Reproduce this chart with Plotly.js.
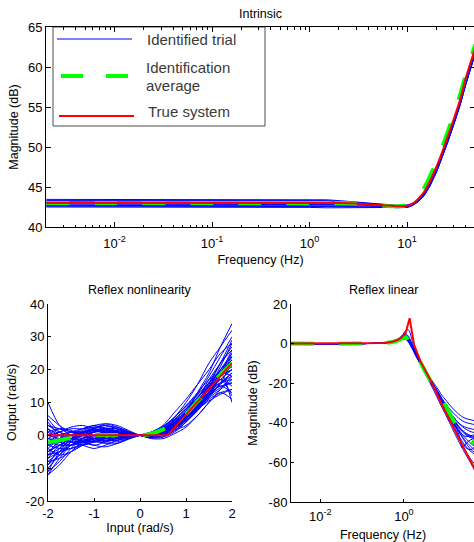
<!DOCTYPE html>
<html>
<head>
<meta charset="utf-8">
<script src="https://cdn.plot.ly/plotly-3.0.1.min.js"></script>
<style>
html,body{margin:0;padding:0;overflow:hidden;background:#fff;}
#chart{width:476px;height:542px;}
</style>
</head>
<body>
<div id="chart"></div>
<script>
// ---------------- DATA ----------------
// Intrinsic (top): frequency (Hz) and magnitude (dB)
const intrFreq = [0.002, 0.01, 0.1, 1, 1.5, 2, 3, 4, 5, 6, 7, 8, 9, 10, 11, 12, 13, 15, 17, 20, 23, 26, 30, 35, 40, 45, 50];
const intrTrue = [43, 43, 43, 43, 43, 43, 42.95, 42.8, 42.75, 42.7, 42.65, 42.6, 42.6, 42.65, 42.8, 43.1, 43.5, 44.4, 45.6, 47.5, 49.4, 51.2, 53.4, 55.9, 58.6, 60.6, 62.4];
const intrAvg  = [43, 43, 43, 43, 43, 43, 42.95, 42.85, 42.7, 42.65, 42.6, 42.6, 42.65, 42.75, 43.0, 43.4, 43.9, 44.9, 46.2, 48.1, 50.0, 51.8, 54.0, 56.5, 59.0, 61.0, 62.8];
const intrTrial1 = [43.45, 43.45, 43.45, 43.45, 43.4, 43.3, 43.1, 42.95, 42.85, 42.8, 42.75, 42.7, 42.7, 42.75, 42.9, 43.15, 43.5, 44.3, 45.4, 47.2, 49.1, 50.9, 53.1, 55.6, 58.2, 60.2, 62.0];
const intrTrial2 = [43.3, 43.3, 43.3, 43.3, 43.3, 43.2, 43.05, 42.9, 42.8, 42.75, 42.7, 42.65, 42.65, 42.7, 42.85, 43.1, 43.4, 44.2, 45.3, 47.1, 49.0, 50.8, 53.0, 55.5, 58.1, 60.1, 61.9];
const intrTrial3 = [43.15, 43.15, 43.15, 43.15, 43.15, 43.1, 43.0, 42.85, 42.75, 42.7, 42.65, 42.6, 42.6, 42.65, 42.8, 43.05, 43.35, 44.1, 45.2, 47.0, 48.9, 50.7, 52.9, 55.4, 58.0, 60.0, 61.8];
const intrTrial4 = [43.0, 43.0, 43.0, 43.0, 43.0, 43.0, 42.9, 42.8, 42.7, 42.65, 42.6, 42.55, 42.55, 42.6, 42.75, 43.0, 43.3, 44.1, 45.2, 47.0, 48.9, 50.7, 52.9, 55.4, 58.0, 60.0, 61.8];
const intrTrial5 = [42.85, 42.85, 42.85, 42.85, 42.85, 42.85, 42.8, 42.7, 42.65, 42.6, 42.55, 42.5, 42.5, 42.55, 42.7, 42.95, 43.25, 44.0, 45.1, 46.9, 48.8, 50.6, 52.8, 55.3, 57.9, 59.9, 61.7];
const intrTrial6 = [42.7, 42.7, 42.7, 42.7, 42.7, 42.7, 42.65, 42.6, 42.55, 42.5, 42.5, 42.45, 42.45, 42.5, 42.65, 42.9, 43.2, 43.95, 45.0, 46.8, 48.7, 50.5, 52.7, 55.2, 57.8, 59.8, 61.6];
const intrTrial7 = [42.6, 42.6, 42.6, 42.6, 42.55, 42.55, 42.55, 42.5, 42.5, 42.45, 42.45, 42.4, 42.4, 42.45, 42.6, 42.85, 43.15, 43.9, 45.0, 46.8, 48.7, 50.5, 52.7, 55.2, 57.8, 59.8, 61.6];
const intrTrial8 = [42.5, 42.5, 42.5, 42.45, 42.4, 42.4, 42.4, 42.4, 42.4, 42.4, 42.4, 42.4, 42.4, 42.45, 42.6, 42.85, 43.2, 44.0, 45.1, 46.9, 48.8, 50.6, 52.8, 55.3, 57.9, 59.9, 61.7];
const intrTrials = [intrTrial1, intrTrial2, intrTrial3, intrTrial4, intrTrial5, intrTrial6, intrTrial7, intrTrial8];

// Reflex nonlinearity (bottom left): input (rad/s) and output (rad/s)
const nlInput = [-2, -1.75, -1.5, -1.25, -1, -0.75, -0.5, -0.25, 0, 0.25, 0.5, 0.75, 1, 1.25, 1.5, 1.75, 2];
const nlTrueInput = [-2, 0.6, 2];
const nlTrue = [0, 0, 22];
const nlAvg = [-2.2, -1.5, -0.7, -0.2, 0, 0.1, 0.1, 0, 0, 0.5, 1.8, 3.8, 6.5, 10.3, 14.6, 18.5, 22];
const nlTrial01 = [-3, -2, -1, 0, 1, 1.5, 1, 0.5, 0, 0.5, 1.5, 3.5, 6, 9, 13, 17, 20];
const nlTrial02 = [-8, -5, -2, 0, 1, 2, 1, 0.3, 0, 0.3, 1, 3, 5.5, 8.5, 12, 15.5, 19];
const nlTrial03 = [2, 0, -1, -1, 0, 1, 0.8, 0.3, 0, -0.3, 0, 2, 5, 10, 16, 22, 26];
const nlTrial04 = [-12, -7, -3, -1, 0, 0, -0.5, -0.2, 0, 0.5, 2, 4.5, 7, 10, 13, 15, 16];
const nlTrial05 = [10, 3, 0, 1, 2, 3, 2, 1, 0, -0.5, 0, 1.5, 4, 8, 12, 18, 24];
const nlTrial06 = [-5, -3, -2, -2, -3, -3.5, -2.5, -1, 0, 1, 2.5, 5, 8, 11.5, 15, 18, 21];
const nlTrial07 = [0, 1, 2, 2, 2.5, 3, 2, 0.7, 0, -1, -1, 0.5, 2.5, 6, 10, 14, 18];
const nlTrial08 = [-10, -6, -2, 1, 2, 1, 0, -0.5, 0, 1, 3, 7, 11, 15.5, 20, 25, 28];
const nlTrial09 = [-2, -3, -3, -2, -1, 0, 0.5, 0.3, 0, -0.5, -0.5, 1, 4, 7.5, 11, 13, 14];
const nlTrial10 = [3, 2, 1, 0, -1, -2, -2, -1, 0, 0.8, 2, 4, 6.5, 10, 14.5, 20, 25];
const nlTrial11 = [-6, -4, -1.5, 0.5, 1.5, 2.5, 2.5, 1.2, 0, -0.5, 0.5, 2.5, 6, 11, 17, 22, 27];
const nlTrial12 = [-1, -1.5, -2, -3, -4, -3, -1.5, -0.5, 0, 0.5, 1.5, 3.5, 6, 9, 12, 14.5, 16];
const nlTrial13 = [-11, -8, -4, -1, 1, 2, 2, 1, 0, 0, 1, 3, 6, 10, 15, 20, 24];
const nlTrial14 = [5, 1, -1, -2, -1, 0, 0.5, 0.3, 0, 0.3, 1.2, 3, 5.5, 8, 10.5, 12.5, 14];
const nlTrial15 = [-4, -1, 1, 2, 3, 3.5, 2.5, 1, 0, -0.8, -0.5, 1.5, 4.5, 8.5, 13.5, 19, 22];
const nlTrial16 = [-7, -5, -3, -2, -2, -1.5, -1, -0.5, 0, 0.6, 1.8, 4.5, 8, 12.5, 18, 24, 30];
const nlTrial17 = [1, -1, -1, 0, 1, 1, 0.5, 0, 0, 0, 1, 2.5, 4.5, 7.5, 12, 18, 20];
const nlTrial18 = [-9, -4, 0, 2, 3, 2, 1, 0.5, 0, -0.3, 0.5, 3, 7, 13, 19, 27, 34];
const nlTrial19 = [-3, -4, -4, -3, -2, -1, -1, -0.5, 0, 0.8, 2.5, 5.5, 9, 13, 17, 19, 18];
const nlTrial20 = [0, 2, 1.5, 0, -1, -1, -0.3, 0, 0, 0.2, 0.8, 2.5, 5, 8.5, 12.5, 17, 12];
const nlTrial21 = [-6, -2, 0, -1, -2, -2, -1, -0.4, 0, 0.4, 1.4, 3.5, 6.5, 10, 14, 19, 23];
const nlTrial22 = [-12, -9, -5, -2, 0, 1, 1, 0.5, 0, -0.2, 0.3, 2, 4.5, 8, 13, 19, 26];
const nlTrial23 = [6, 3, 1, 1, 1, 1.5, 1.5, 0.8, 0, -0.2, 0.8, 3, 6, 9, 12, 16, 19];
const nlTrial24 = [-2, 0, 1, 1, 0, -1, -1.5, -0.8, 0, 0.5, 1.5, 4, 7.5, 11.5, 16, 19, 10];
const nlTrial25 = [-5, -3, -1, 1, 2, 1, 0, 0, 0, 1, 2.5, 5.5, 10, 15.5, 22, 27, 32];
const nlTrial26 = [-1, -2, -3, -2, -0.5, 1, 1, 0.5, 0, -0.5, 0, 1.5, 3, 6, 10, 13, 11];
const nlTrial27 = [-4, -6, -5, -3, -1, 0.5, 1, 0.6, 0, 0.2, 1, 3, 6, 9.5, 14, 18, 21];
const nlTrial28 = [1, 2, 0, -2, -3, -2, -0.5, 0, 0, 0.7, 2.2, 4.8, 8.5, 12, 15, 17, 15];
const nlTrial29 = [-7, -3, -1, 0.5, 2, 3.5, 3, 1.5, 0, -0.6, 0, 2, 5, 9, 14.5, 21, 28];
const nlTrial30 = [4, 0, -2, -3, -2, -0.5, 0.5, 0.4, 0, 0.2, 1, 2.8, 5.2, 8, 11.5, 16, 22];
const nlTrial31 = [-9, -6, -3, -1.5, -1, -1.5, -1.5, -0.6, 0, 0.7, 2, 4.2, 7, 10.5, 15, 20, 24];
const nlTrial32 = [-1, 1, 2.5, 3, 2, 0.5, -0.5, -0.3, 0, 0.3, 1.3, 3.2, 6, 9.5, 13, 16, 17];
const nlTrial33 = [-6, -5, -4, -2.5, -1, 0, 0.3, 0.2, 0, 0, 0.8, 2.8, 5.5, 9, 13, 18.5, 25];
const nlTrial34 = [2, -2, -3, -1, 1, 2, 1.5, 0.6, 0, -0.4, 0.2, 2.2, 5.2, 8.8, 12.5, 15, 13];
const nlTrial35 = [-11, -5, -1, 1, 1.5, 0.5, -0.5, -0.4, 0, 0.5, 1.7, 3.8, 6.8, 10.5, 14.5, 18, 20];
const nlTrial36 = [0, -1, 0, 1.5, 2.5, 2, 0.8, 0.2, 0, 0.1, 0.9, 2.7, 5.8, 10, 15.5, 22, 29];
const nlTrial37 = [-3, -1, 0, -0.5, -1.5, -2.5, -2.5, -1.2, 0, 1, 2.8, 5.5, 9, 12.5, 16, 19.5, 23];
const nlTrial38 = [-8, -7, -5, -3, -1.5, -0.5, 0, 0, 0, 0.4, 1.2, 3, 5.5, 8.5, 11.5, 14, 17];
const nlTrial39 = [3, 1, 0, 0.5, 1.5, 2, 1.2, 0.4, 0, -0.2, 0.6, 2.5, 5.5, 9.5, 14, 19, 21];
const nlTrial40 = [-5, -2, -1, -1.5, -2, -1, 0, 0.2, 0, 0.3, 1.5, 4, 7.5, 11, 14, 16, 18];
const nlTrials = [nlTrial01, nlTrial02, nlTrial03, nlTrial04, nlTrial05, nlTrial06, nlTrial07, nlTrial08, nlTrial09, nlTrial10,
  nlTrial11, nlTrial12, nlTrial13, nlTrial14, nlTrial15, nlTrial16, nlTrial17, nlTrial18, nlTrial19, nlTrial20,
  nlTrial21, nlTrial22, nlTrial23, nlTrial24, nlTrial25, nlTrial26, nlTrial27, nlTrial28, nlTrial29, nlTrial30,
  nlTrial31, nlTrial32, nlTrial33, nlTrial34, nlTrial35, nlTrial36, nlTrial37, nlTrial38, nlTrial39, nlTrial40];

// Reflex linear (bottom right): frequency (Hz) and magnitude (dB)
const linFreq = [0.002, 0.1, 0.3, 0.5, 0.7, 0.9, 1.1, 1.3, 1.6, 2, 2.5, 3.2, 4, 5, 6.5, 8, 10, 13, 16, 20, 25, 32, 40, 50];
const linTrueFreq = [0.002, 0.1, 0.3, 0.5, 0.7, 0.85, 1.0, 1.1, 1.37, 1.75, 2.5, 3.2, 4.3, 5, 7.5, 10, 15, 20, 30, 40, 50];
const linTrue = [0, 0, 0.3, 0.8, 1.8, 2.9, 4.2, 5.4, 12.8, -0.6, -9, -13.5, -18.7, -21, -29.5, -34.5, -42, -47.5, -54.5, -59.5, -63.5];
const linAvg = [0, 0, 0.2, 0.7, 1.5, 2.6, 3.2, 1.5, -2, -6, -9.7, -13.8, -17.5, -21, -25, -28.5, -31.5, -36, -39.5, -43, -45.5, -47.5, -49, -50.5];
const linTrialA = [0, 0, 0.3, 1, 2.2, 4, 6.5, 6.8, 1, -5, -9, -13.5, -17.5, -21, -25.5, -29, -32.5, -37, -40.5, -44, -47, -50, -52, -54];
const linTrialB = [0, 0, 0.3, 0.9, 1.8, 3, 3.5, 2, -1.5, -5.5, -9, -13, -16.5, -19.5, -23, -26, -28.5, -31.5, -33.5, -35.5, -37, -38, -38.5, -39];
const linTrialC = [0, 0, 0.3, 0.9, 1.9, 3.3, 4.2, 2.5, -2, -6.5, -10.5, -15, -19, -23, -28, -32, -36, -41, -45, -49, -53, -57, -60.5, -64.5];
const linTrialD = [0, 0, 0.3, 0.8, 1.6, 2.6, 2.8, 1, -2.5, -6.5, -10, -14, -17.5, -21, -25, -28.5, -32, -36.5, -40.5, -45, -52.5, -50, -48.5, -48];
const linTrialE = [0, 0, 0.2, 0.7, 1.5, 2.3, 2.2, 0.5, -2.5, -6, -9.5, -13.5, -17, -20.5, -24.5, -28, -31, -35, -37.5, -40, -42, -43.5, -44.5, -45];
const linTrialF = [0, 0, 0.3, 1, 2, 3.4, 4, 2.2, -1.5, -5.8, -9.5, -13.8, -17.5, -21, -25.5, -29.5, -33, -38, -42, -46, -49.5, -52.5, -54.5, -56];
const linTrialG = [0, 0, 0.3, 0.9, 1.7, 2.8, 3, 1.2, -2.5, -6.8, -10.5, -14.5, -18, -21.5, -25.5, -29, -32, -36, -39, -42, -44.5, -46.5, -47.5, -48];
const linTrialH = [0, 0, 0.3, 1, 2.1, 3.6, 4.6, 3, -1, -5.2, -9, -13.2, -17, -20.5, -24.5, -28, -31.5, -35, -37.5, -40, -41.5, -42.5, -43, -43.5];
const linTrialI = [0, 0, 0.2, 0.8, 1.6, 2.5, 2.4, 0.8, -2.7, -6.8, -10.5, -14.8, -18.5, -22, -26.5, -30.5, -34, -39, -43, -47, -50.5, -53, -53.5, -52];
const linTrialJ = [0, 0, 0.3, 0.9, 1.8, 3.1, 3.6, 1.8, -2, -6.2, -10, -14, -17.5, -21, -25, -28.5, -31.5, -35.5, -38.5, -41.5, -44, -46, -47, -47.5];
const linTrialK = [0, 0, 0.3, 1, 2, 3.2, 3.8, 2.2, -1.7, -5.9, -9.6, -13.6, -17.2, -20.6, -24.8, -28.5, -32, -36.5, -40, -44, -47.5, -51, -53.5, -55];
const linTrialL = [0, 0, 0.3, 0.9, 1.8, 3, 3.2, 1.5, -2.2, -6.4, -10.2, -14.3, -18, -21.5, -26, -29.5, -33, -37.5, -41, -44, -46, -47, -46.5, -46];
const linTrialM = [0, 0, 0.2, 0.8, 1.6, 2.7, 2.6, 0.9, -2.6, -6.6, -10.3, -14.3, -17.8, -21.2, -25.2, -28.8, -32, -36, -39.5, -43, -46, -48.5, -50.5, -52];
const linTrialN = [0, 0, 0.3, 1, 2.1, 3.7, 5, 3.5, -0.5, -4.8, -8.7, -13, -16.8, -20.3, -24.2, -27.5, -30.5, -33.5, -35.5, -37.5, -39, -40, -40.5, -41];
const linTrialO = [0, 0, 0.3, 0.9, 1.9, 3.2, 3.4, 1.6, -2.2, -6.3, -10.1, -14.2, -17.8, -21.3, -25.5, -29.2, -32.8, -37.8, -42.3, -47, -51.5, -55.5, -58.5, -61];
const linTrialP = [0, 0, 0.3, 0.9, 1.8, 2.9, 3.1, 1.4, -2.3, -6.4, -10.1, -14.1, -17.7, -21.1, -25.1, -28.6, -31.8, -35.8, -38.8, -41.6, -43.8, -45.5, -46.5, -47];
const linTrials = [linTrialA, linTrialB, linTrialC, linTrialD, linTrialE, linTrialF, linTrialG, linTrialH, linTrialI, linTrialJ, linTrialK, linTrialL, linTrialM, linTrialN, linTrialO, linTrialP];

// Tick values / labels
const freqTickVals = [0.01, 0.1, 1, 10];
const freqTickText = ['10<sup>-2</sup>', '10<sup>-1</sup>', '10<sup>0</sup>', '10<sup>1</sup>'];
const linFreqTickVals = [0.01, 1];
const linFreqTickText = ['10<sup>-2</sup>', '10<sup>0</sup>'];
const intrYTicks = [40, 45, 50, 55, 60, 65];
const intrYText = ['40', '45', '50', '55', '60', '65'];
const nlXTicks = [-2, -1, 0, 1, 2];
const nlXText = ['-2', '-1', '0', '1', '2'];
const nlYTicks = [-20, -10, 0, 10, 20, 30, 40];
const nlYText = ['-20', '-10', '0', '10', '20', '30', '40'];
const linYTicks = [-80, -60, -40, -20, 0, 20];
const linYText = ['-80', '-60', '-40', '-20', '0', '20'];
const legendLabels = ['Identified trial', 'Identification', 'average', 'True system'];
const panelTitles = ['Intrinsic', 'Reflex nonlinearity', 'Reflex linear'];

// ---------------- STYLE / LAYOUT ----------------
const FONT = '"Liberation Sans", Arial, Helvetica, sans-serif';
const W = 476, H = 542;
const BLUE = '#0000ff', GREEN = '#00ff00', RED = '#ff0000';
const DASH = '23px,25px';

const traces = [];
function addTrace(x, y, xa, ya, color, width, dash, shape) {
  traces.push({
    type: 'scatter', mode: 'lines', x: x, y: y, xaxis: xa, yaxis: ya,
    line: {color: color, width: width, dash: dash || 'solid', shape: shape || 'linear', smoothing: 0.8},
    showlegend: false, hoverinfo: 'skip'
  });
}
// top
intrTrials.forEach(t => addTrace(intrFreq, t, 'x', 'y', BLUE, 1, 'solid', 'linear'));
addTrace(intrFreq, intrAvg, 'x', 'y', GREEN, 4, DASH, 'spline');
addTrace(intrFreq, intrTrue, 'x', 'y', RED, 2, 'solid', 'spline');
// bottom-left
nlTrials.forEach(t => addTrace(nlInput, t, 'x2', 'y2', BLUE, 1, 'solid', 'spline'));
addTrace(nlInput, nlAvg, 'x2', 'y2', GREEN, 4, DASH, 'spline');
addTrace(nlTrueInput, nlTrue, 'x2', 'y2', RED, 2, 'solid', 'linear');
// bottom-right
linTrials.forEach(t => addTrace(linFreq, t, 'x3', 'y3', BLUE, 1, 'solid', 'spline'));
addTrace(linFreq, linAvg, 'x3', 'y3', GREEN, 4, DASH, 'spline');
addTrace(linTrueFreq, linTrue, 'x3', 'y3', RED, 2, 'solid', 'linear');

// minor tick positions on log axes (2..9 per decade)
const minorVals = [];
for (let e = -3; e <= 1; e++) for (let m = 2; m <= 9; m++) minorVals.push(m * Math.pow(10, e));

const tickFont = {family: FONT, size: 13, color: '#000'};
const titleFont = {family: FONT, size: 12.5, color: '#000'};
function axis(extra) {
  return Object.assign({
    showgrid: false, zeroline: false, showline: true, linecolor: '#000', linewidth: 1,
    ticks: 'inside', ticklen: 4, tickwidth: 1, tickcolor: '#000', tickfont: tickFont,
    automargin: false, fixedrange: true
  }, extra);
}

// domains from pixel boxes
const topBox = {l: 46, r: 475, t: 27, b: 227};
const blBox = {l: 48, r: 232, t: 304, b: 501};
const brBox = {l: 291, r: 475, t: 304, b: 502};
const dx = b => [b.l / W, b.r / W];
const dy = b => [1 - b.b / H, 1 - b.t / H];

const layout = {
  width: W, height: H,
  margin: {l: 0, r: 0, t: 0, b: 0, pad: 0},
  paper_bgcolor: '#fff', plot_bgcolor: '#fff',
  font: {family: FONT, color: '#000'},
  showlegend: false,
  xaxis: axis({type: 'log', domain: dx(topBox), range: [-2.7026, 1.6974], anchor: 'y', mirror: 'ticks',
    tickmode: 'array', tickvals: freqTickVals, ticktext: freqTickText, ticklen: 5, ticklabelstandoff: 4,
    minor: {tickmode: 'array', tickvals: minorVals, ticks: 'inside', ticklen: 2.5, tickcolor: '#000', showgrid: false},
    title: {text: 'Frequency (Hz)', font: titleFont, standoff: 5}}),
  yaxis: axis({domain: dy(topBox), range: [40, 65], anchor: 'x', mirror: 'ticks',
    tickmode: 'array', tickvals: intrYTicks, ticktext: intrYText, ticklen: 5,
    title: {text: 'Magnitude (dB)', font: titleFont, standoff: 6}}),
  xaxis2: axis({domain: dx(blBox), range: [-2, 2], anchor: 'y2',
    tickmode: 'array', tickvals: nlXTicks, ticktext: nlXText, ticklen: 3,
    title: {text: 'Input (rad/s)', font: titleFont, standoff: 3}}),
  yaxis2: axis({domain: dy(blBox), range: [-20, 40], anchor: 'x2',
    tickmode: 'array', tickvals: nlYTicks, ticktext: nlYText, ticklen: 3,
    title: {text: 'Output (rad/s)', font: titleFont, standoff: 6}}),
  xaxis3: axis({type: 'log', domain: dx(brBox), range: [-2.699, 1.699], anchor: 'y3',
    tickmode: 'array', tickvals: linFreqTickVals, ticktext: linFreqTickText, ticklen: 3, ticklabelstandoff: 2,
    title: {text: 'Frequency (Hz)', font: titleFont, standoff: 7}}),
  yaxis3: axis({domain: dy(brBox), range: [-80, 20], anchor: 'x3',
    tickmode: 'array', tickvals: linYTicks, ticktext: linYText, ticklen: 3,
    title: {text: 'Magnitude (dB)', font: titleFont, standoff: 8}}),
  shapes: [],
  annotations: []
};

// subplot titles
const titlePos = [[260, 14], [140, 290], [383, 290]];
panelTitles.forEach((t, i) => layout.annotations.push({
  text: t, xref: 'paper', yref: 'paper', x: titlePos[i][0] / W, y: 1 - titlePos[i][1] / H,
  xanchor: 'center', yanchor: 'middle', showarrow: false, font: titleFont
}));

// custom legend inside top axes (domain coords)
const lx = p => (p - topBox.l) / (topBox.r - topBox.l);
const ly = p => (topBox.b - p) / (topBox.b - topBox.t);
layout.shapes.push({type: 'rect', xref: 'x domain', yref: 'y domain', x0: lx(53), x1: lx(265), y0: ly(126), y1: 1,
  line: {color: '#4d4d4d', width: 1}, fillcolor: '#ffffff', layer: 'below'});
layout.shapes.push({type: 'line', xref: 'x domain', yref: 'y domain', x0: lx(57), x1: lx(132), y0: ly(39), y1: ly(39),
  line: {color: '#5555ff', width: 1.5}});
layout.shapes.push({type: 'line', xref: 'x domain', yref: 'y domain', x0: lx(61), x1: lx(128), y0: ly(76), y1: ly(76),
  line: {color: GREEN, width: 4, dash: '22px,23px'}});
layout.shapes.push({type: 'line', xref: 'x domain', yref: 'y domain', x0: lx(59), x1: lx(134), y0: ly(116), y1: ly(116),
  line: {color: RED, width: 2}});
const legFont = {family: FONT, size: 15, color: '#3a3a3a'};
const legPos = [[145, 39], [144, 68], [144, 85], [146, 111]];
legendLabels.forEach((t, i) => layout.annotations.push({
  text: t, xref: 'x domain', yref: 'y domain', x: lx(legPos[i][0]), y: ly(legPos[i][1]),
  xanchor: 'left', yanchor: 'middle', showarrow: false, font: legFont
}));

Plotly.newPlot('chart', traces, layout, {staticPlot: true, displayModeBar: false});
</script>
</body>
</html>
